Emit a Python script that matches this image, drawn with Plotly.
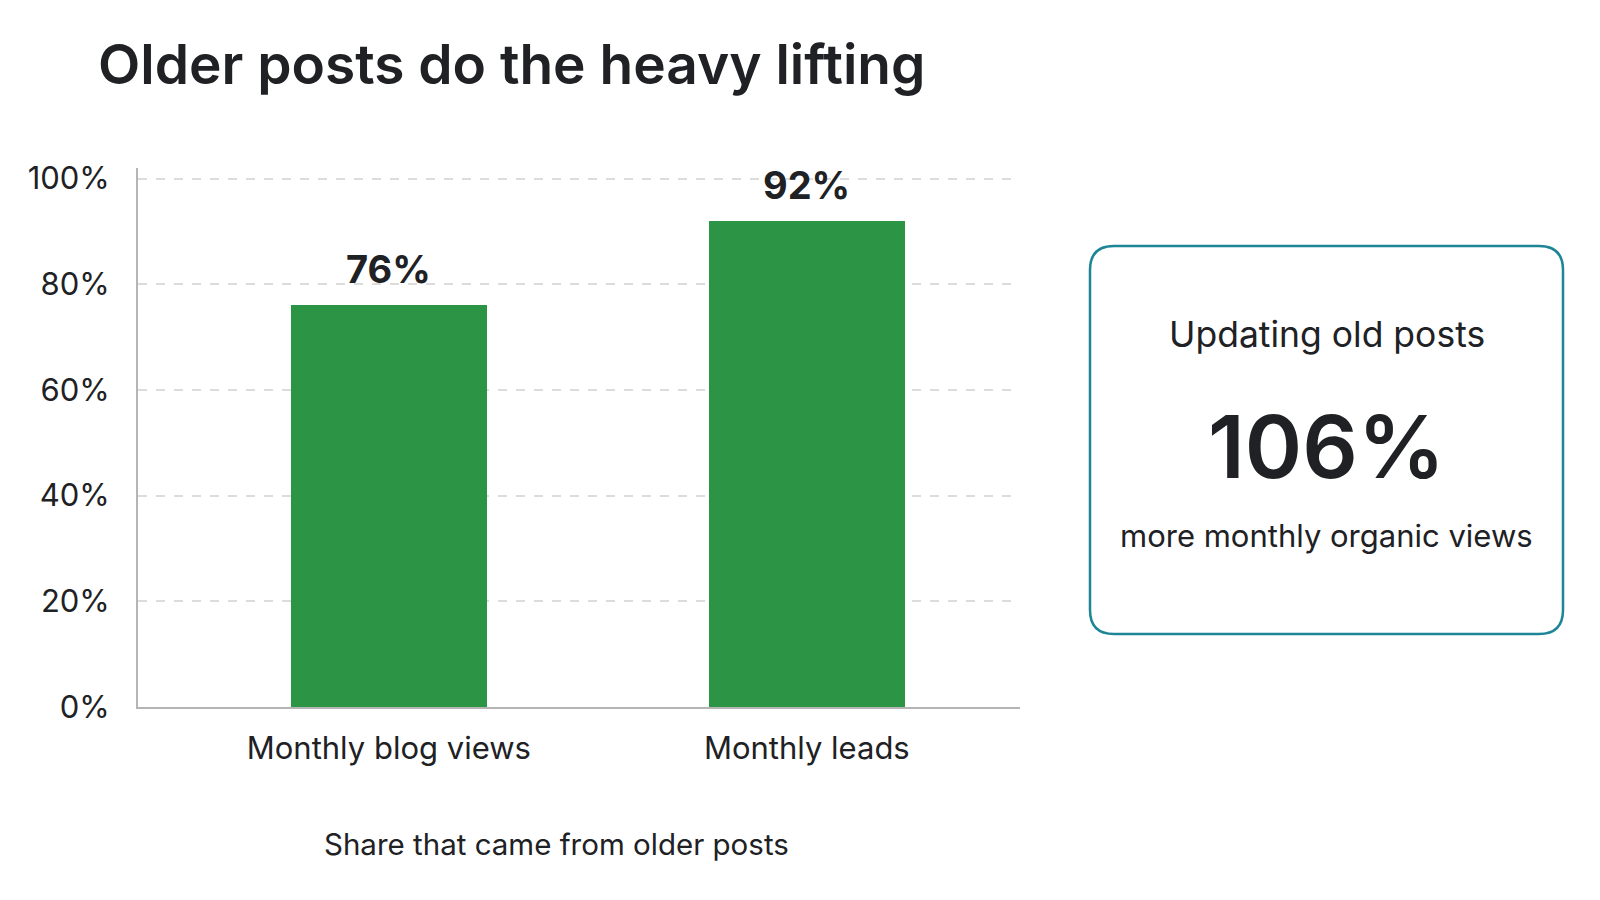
import plotly.graph_objects as go

# data
categories = ["Monthly blog views", "Monthly leads"]
older_share = [76, 92]
y_ticks = [0, 20, 40, 60, 80, 100]
y_tick_text = ["0%", "20%", "40%", "60%", "80%", "100%"]

title_text = "Older posts do the heavy lifting"
axis_caption = "Share that came from older posts"
callout_head = "Updating old posts"
callout_value = "106%"
callout_foot = "more monthly organic views"

FONT = "Inter"
DARK = "#202124"
GREEN = "#2b9545"
TEAL = "#1d8596"

W, H = 1600, 900
L, R, T, B = 130, 588, 160, 201
pw, ph = W - L - R, H - T - B


def px_x(x):
    # pixel -> paper x
    return (x - L) / pw


def px_y(y):
    # pixel (from top) -> paper y
    return (H - B - y) / ph


xs = list(range(len(categories)))

fig = go.Figure(
    go.Bar(
        x=xs,
        y=older_share,
        width=0.47,
        marker=dict(color=GREEN, line=dict(width=0)),
        hoverinfo="skip",
    )
)

# value labels above the bars
for xi, v in zip(xs, older_share):
    fig.add_annotation(
        x=xi, y=v, text=f"{v}%", showarrow=False,
        yanchor="middle", yshift=36,
        font=dict(family=FONT, size=38, color=DARK, weight=700),
    )

fig.update_layout(
    width=W,
    height=H,
    margin=dict(l=L, r=R, t=T, b=B),
    paper_bgcolor="white",
    plot_bgcolor="white",
    showlegend=False,
    bargap=0,
    font=dict(family=FONT, color=DARK),
    title=dict(
        text=title_text,
        x=90 / W,
        xanchor="left",
        y=1 - 57 / H,
        yanchor="middle",
        font=dict(family=FONT, size=55, color=DARK, weight=600),
    ),
    xaxis=dict(
        tickmode="array",
        tickvals=xs,
        ticktext=categories,
        range=[-0.6, 1.51],
        showgrid=False,
        showline=True,
        linecolor="#b5b5b5",
        linewidth=2,
        ticks="",
        tickfont=dict(family=FONT, size=31, color=DARK),
        ticklabelstandoff=13,
        zeroline=False,
        fixedrange=True,
    ),
    yaxis=dict(
        range=[0, 102],
        tickmode="array",
        tickvals=y_ticks,
        ticktext=y_tick_text,
        showgrid=True,
        gridcolor="#dcdcdc",
        gridwidth=1.5,
        griddash="dash",
        showline=True,
        linecolor="#b5b5b5",
        linewidth=2,
        ticks="",
        tickfont=dict(family=FONT, size=31, color=DARK),
        ticklabelstandoff=20,
        zeroline=False,
        fixedrange=True,
    ),
)

# caption under the x axis
fig.add_annotation(
    text=axis_caption,
    xref="paper", yref="paper",
    x=px_x(548), y=px_y(836),
    xanchor="center", yanchor="middle",
    showarrow=False,
    font=dict(family=FONT, size=29.5, color=DARK),
)

# rounded callout box
bx0, bx1, by0, by1, rad = 1082, 1555, 238, 626, 24
x0, x1 = px_x(bx0), px_x(bx1)
y0, y1 = px_y(by0), px_y(by1)
rx, ry = rad / pw, rad / ph
path = (
    f"M {x0 + rx},{y0} L {x1 - rx},{y0} Q {x1},{y0} {x1},{y0 - ry} "
    f"L {x1},{y1 + ry} Q {x1},{y1} {x1 - rx},{y1} "
    f"L {x0 + rx},{y1} Q {x0},{y1} {x0},{y1 + ry} "
    f"L {x0},{y0 - ry} Q {x0},{y0} {x0 + rx},{y0} Z"
)
fig.add_shape(
    type="path", path=path, xref="paper", yref="paper",
    line=dict(color=TEAL, width=2.5), fillcolor="white", layer="below",
)

cx = px_x((bx0 + bx1) / 2)
for txt, ypix, size, weight in [
    (callout_head, 326, 35.5, 400),
    (callout_value, 438, 87, 600),
    (callout_foot, 527, 31, 400),
]:
    fig.add_annotation(
        text=txt, xref="paper", yref="paper",
        x=cx, y=px_y(ypix), xanchor="center", yanchor="middle",
        showarrow=False,
        font=dict(family=FONT, size=size, color=DARK, weight=weight),
    )

fig.write_html("out.html", config={"displayModeBar": False})
